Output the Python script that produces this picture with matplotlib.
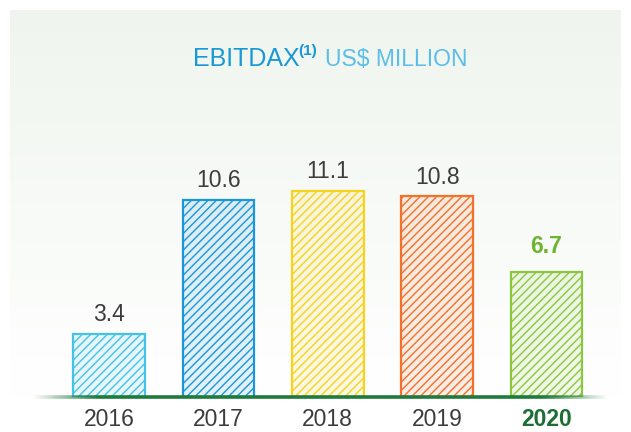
import numpy as np
import matplotlib
matplotlib.use("Agg")
import matplotlib.pyplot as plt
from matplotlib.collections import LineCollection
from matplotlib.colors import to_rgba

# ── data ──────────────────────────────────────────────────
years  = ["2016", "2017", "2018", "2019", "2020"]
values = [3.4, 10.6, 11.1, 10.8, 6.7]
colors = ["#45c3e6", "#1b96d8", "#f7d21e", "#f3712b", "#8cc63f"]

plt.rcParams["font.family"] = ["Liberation Sans", "DejaVu Sans"]
plt.rcParams["hatch.linewidth"] = 1.0

W, H = 631, 432
fig = plt.figure(figsize=(W / 100, H / 100), dpi=100)
fig.patch.set_facecolor("white")

# ── background panel (light green fading to white) ────────
bg = fig.add_axes([10 / W, 35 / H, 611 / W, (H - 10 - 35) / H])
top = np.array(to_rgba("#eff5ee"))
bot = np.array(to_rgba("#ffffff"))
t = np.linspace(0, 1, 256)[:, None]
grad = top * (1 - t) + bot * t
bg.imshow(grad[:, None, :], aspect="auto", extent=[0, 1, 0, 1])
bg.set_axis_off()

# ── bars ──────────────────────────────────────────────────
ppu = 18.6                     # pixels per unit
ax = fig.add_axes([0, 35 / H, 1, (H - 35) / H])
ax.set_xlim(-0.996, 4.772)
ax.set_ylim(0, (H - 35) / ppu)
ax.patch.set_alpha(0)

x = np.arange(len(years))
for xi, v, c in zip(x, values, colors):
    face = to_rgba(c, 0.12)
    ax.bar(xi, v, width=0.655, facecolor=face, edgecolor=c,
           linewidth=1.6, hatch="////", zorder=3)

for i, (xi, v) in enumerate(zip(x, values)):
    last = i == len(values) - 1
    ax.text(xi, v + (0.75 if last else 0.4), f"{v:.1f}", ha="center",
            va="bottom", fontsize=16.5,
            color="#6cb52e" if last else "#3c3c3c",
            fontweight="bold" if last else "normal")

# ── baseline, fading at both ends ─────────────────────────
xs = np.linspace(-0.7, 4.55, 300)
segs = [[(xs[k], 0), (xs[k + 1], 0)] for k in range(len(xs) - 1)]
alph = np.clip(np.minimum((xs[:-1] + 0.7) / 0.6, (4.55 - xs[:-1]) / 0.6), 0, 1)
lc = LineCollection(segs, colors=[to_rgba("#1e7b3c", a) for a in alph],
                    linewidths=2.6, zorder=4, capstyle="butt", clip_on=False)
ax.add_collection(lc)

# ── x tick labels ─────────────────────────────────────────
ax.set_xticks(x)
ax.set_xticklabels(years, fontsize=16.5, color="#3c3c3c")
ax.tick_params(axis="x", length=0, pad=8)
lbl = ax.get_xticklabels()[-1]
lbl.set_color("#1d6e35")
lbl.set_fontweight("bold")
ax.set_yticks([])
for s in ax.spines.values():
    s.set_visible(False)

# ── title ─────────────────────────────────────────────────
t1 = fig.text(193 / W, 1 - 59 / H, "EBITDAX", fontsize=18,
              color="#1a98d5", va="center", ha="left")
fig.canvas.draw()
bb = t1.get_window_extent()
t2 = fig.text(bb.x1 / W - 1 / W, 1 - 51 / H, "(1)", fontsize=11,
              color="#1a98d5", va="center", ha="left", fontweight="bold")
bb2 = t2.get_window_extent()
fig.text(bb2.x1 / W + 8 / W, 1 - 59 / H, "US$ MILLION", fontsize=16.5,
         color="#5cbde9", va="center", ha="left")

fig.savefig("out.png", dpi=100)
